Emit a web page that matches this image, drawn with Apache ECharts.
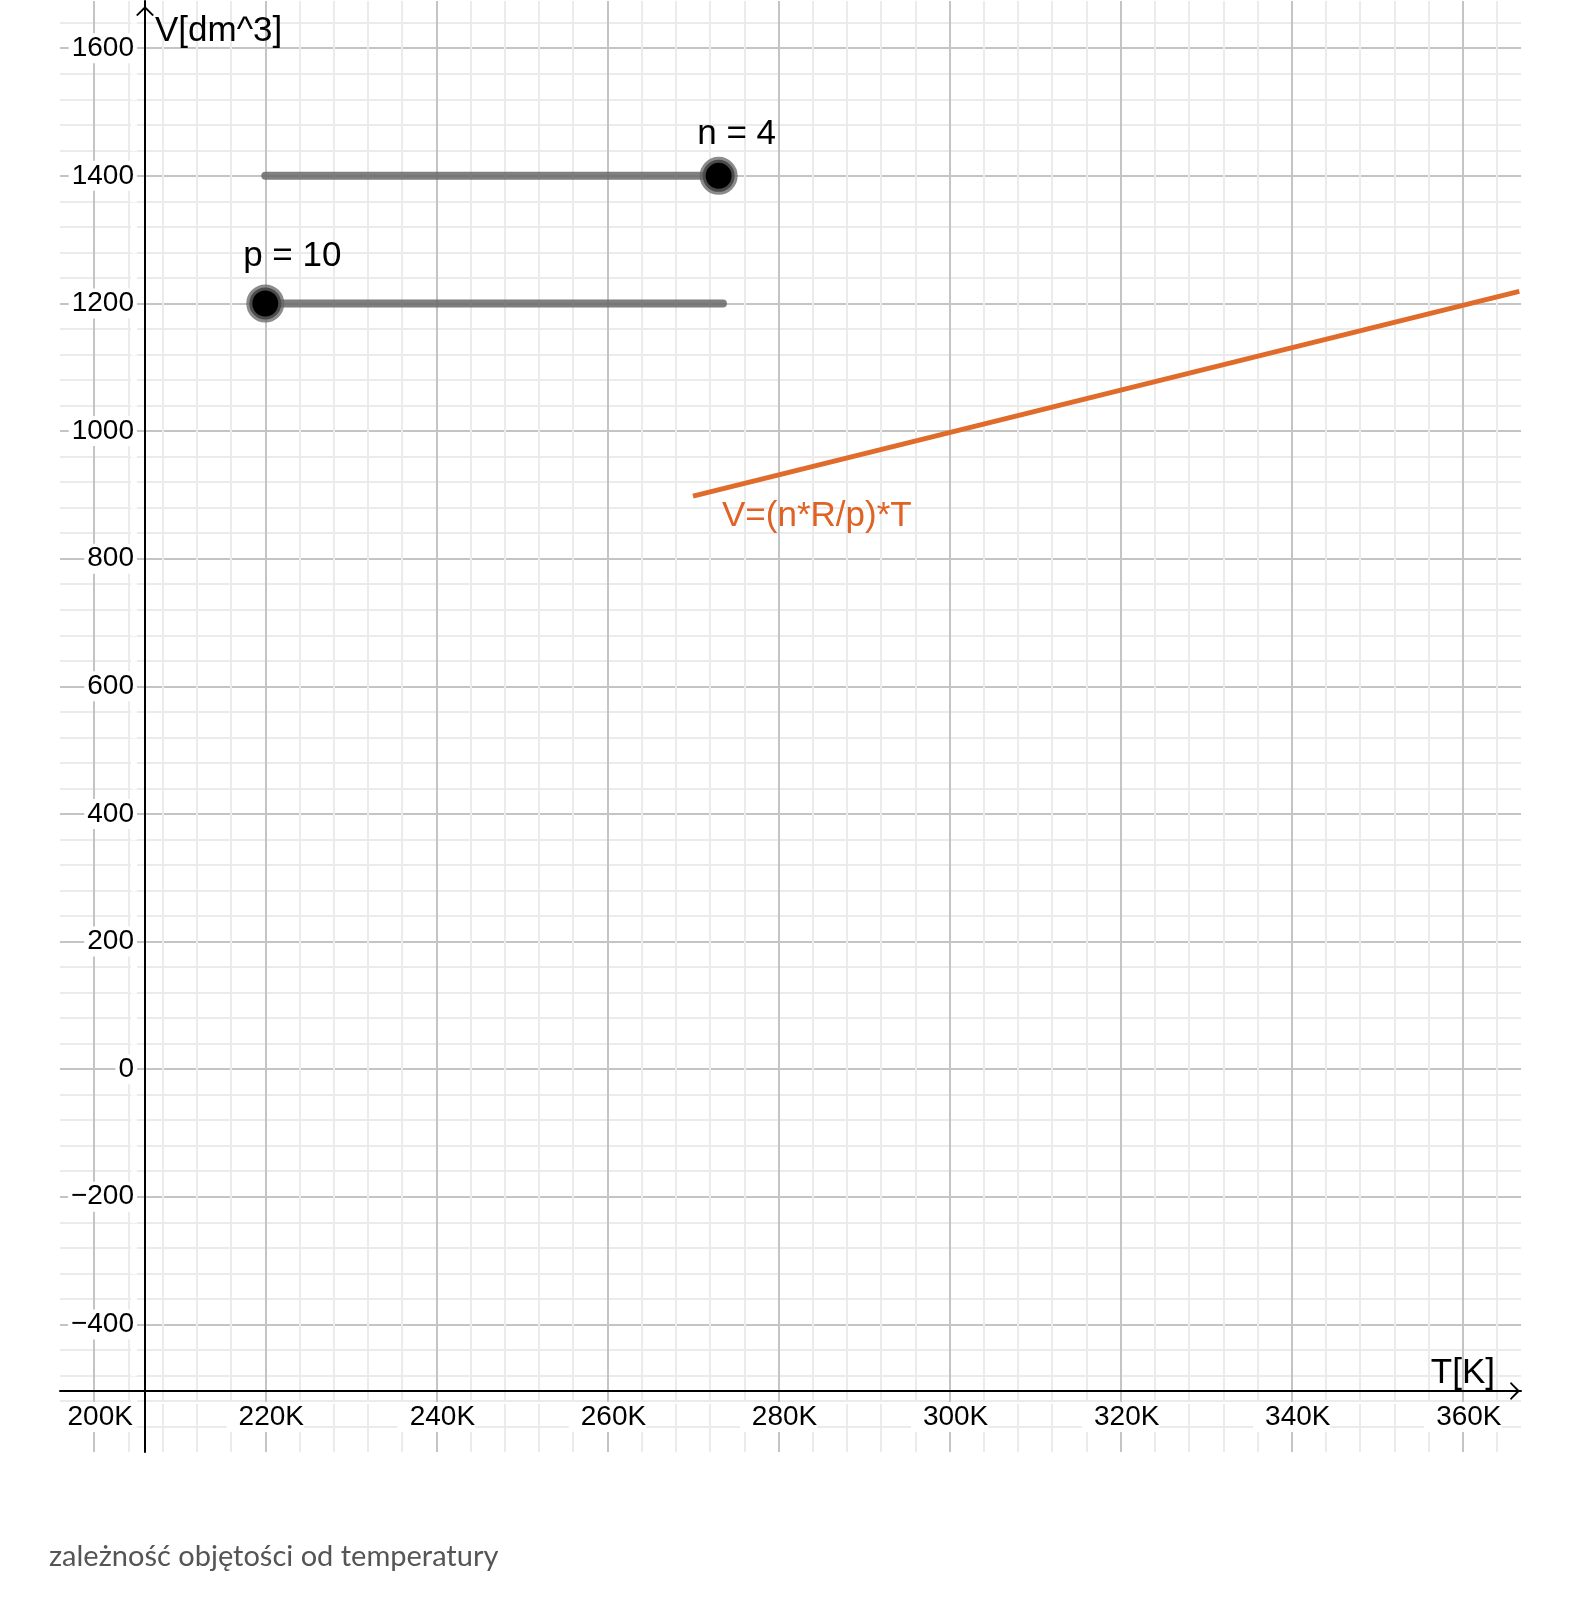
<!DOCTYPE html>
<html><head><meta charset="utf-8">
<script src="https://cdn.jsdelivr.net/npm/echarts@6/dist/echarts.min.js"></script>
<style>html,body{margin:0;padding:0;background:#fff}#c{width:1594px;height:1600px}</style>
</head><body><div id="c"></div>
<script>
// ---- data ----
const functionLine = [[270, 898], [366.6, 1219]];   // V=(n*R/p)*T, T in K
const functionLabel = 'V=(n*R/p)*T';
const nSliderTrack = [[220, 1400], [273, 1400]];
const nSliderPoint = [[273, 1400]];
const nSliderLabel = 'n = 4';
const pSliderTrack = [[220, 1200], [273.5, 1200]];
const pSliderPoint = [[220, 1200]];
const pSliderLabel = 'p = 10';
const xMajorStep = 20, xMinorStep = 4;
const yMajorStep = 200, yMinorStep = 40;
const xName = 'T[K]', yName = 'V[dm^3]';
const caption = 'zależność objętości od temperatury';

const MAJOR = '#c4c4c4', MINOR = '#ebebeb';
const FONT = 'Liberation Sans, Arial, sans-serif';
const chevron = 'path://M9,0 L18,9 L16.4,10 L9,2.8 L1.6,10 L0,9 Z';

const chart = echarts.init(document.getElementById('c'), null, {renderer: 'canvas'});
chart.setOption({
  animation: false,
  backgroundColor: '#fff',
  title: {
    text: caption, left: 44, top: 1537,
    textStyle: {fontFamily: 'Lato', fontSize: 29, fontWeight: 'normal', color: '#555'}
  },
  grid: {left: 60, right: 73, top: 0, bottom: 148, containLabel: false},
  xAxis: {
    type: 'value', min: 196, max: 366.8, interval: xMinorStep,
    position: 'bottom', offset: -61,
    name: xName, nameLocation: 'end', nameGap: -26,
    nameTextStyle: {fontFamily: FONT, fontSize: 35, color: '#000', align: 'right', verticalAlign: 'bottom'},
    axisLine: {show: true, onZero: false, lineStyle: {color: '#000', width: 2},
      symbol: ['none', chevron], symbolSize: [18, 10], symbolOffset: [0, -6]},
    axisTick: {show: false},
    axisLabel: {
      margin: 11, fontFamily: FONT, fontSize: 28, color: '#000',
      backgroundColor: '#fff', padding: [1, 0, 1, 12],
      formatter: v => (Math.abs(v % xMajorStep) < 1e-6 ? v + 'K' : '')
    },
    splitLine: {show: true, showMinLine: false, showMaxLine: false,
      lineStyle: {color: [MAJOR, MINOR, MINOR, MINOR, MINOR], width: 2}}
  },
  yAxis: {
    type: 'value', min: -600, max: 1674, interval: yMinorStep,
    position: 'left', offset: -85,
    name: yName, nameLocation: 'end', nameGap: -13,
    nameTextStyle: {fontFamily: FONT, fontSize: 35, color: '#000', align: 'left', verticalAlign: 'top', padding: [0, 0, 0, 10]},
    axisLine: {show: true, onZero: false, lineStyle: {color: '#000', width: 2},
      symbol: ['none', chevron], symbolSize: [18, 10], symbolOffset: [0, -10]},
    axisTick: {show: false},
    axisLabel: {
      margin: 8, showMinLabel: false, fontFamily: FONT, fontSize: 28, color: '#000',
      backgroundColor: '#fff', padding: [1, 3],
      formatter: v => (Math.abs(v % yMajorStep) < 1e-6 ? (v < 0 ? '\u2212' + (-v) : '' + v) : '')
    },
    splitLine: {show: true, showMinLine: false, showMaxLine: false,
      lineStyle: {color: [MINOR, MINOR, MINOR, MINOR, MAJOR], width: 2}}
  },
  series: [
    {
      type: 'line', data: functionLine, symbol: 'none', z: 5,
      lineStyle: {color: '#e06c2c', width: 5}
    },
    {
      type: 'scatter', data: [functionLine[0]], symbolSize: 0, z: 6, silent: true,
      itemStyle: {color: 'rgba(0,0,0,0)', opacity: 1},
      label: {show: true, position: 'right', distance: 29, offset: [0, 20], formatter: functionLabel,
        fontFamily: FONT, fontSize: 35, color: '#e06225'}
    },
    {
      type: 'line', data: nSliderTrack, symbol: 'none', z: 5,
      lineStyle: {color: 'rgba(105,105,105,0.85)', width: 8, cap: 'round'}
    },
    {
      type: 'line', data: pSliderTrack, symbol: 'none', z: 5,
      lineStyle: {color: 'rgba(105,105,105,0.85)', width: 8, cap: 'round'}
    },
    {
      type: 'scatter', data: nSliderPoint, symbolSize: 32, z: 7,
      itemStyle: {color: '#000', borderColor: 'rgba(100,100,100,0.75)', borderWidth: 6, opacity: 1},
      label: {show: true, position: 'top', distance: 5, offset: [18, 0], formatter: nSliderLabel,
        fontFamily: FONT, fontSize: 35, color: '#000'}
    },
    {
      type: 'scatter', data: pSliderPoint, symbolSize: 32, z: 7,
      itemStyle: {color: '#000', borderColor: 'rgba(100,100,100,0.75)', borderWidth: 6, opacity: 1},
      label: {show: true, position: 'top', distance: 5, offset: [27, -6], formatter: pSliderLabel,
        fontFamily: FONT, fontSize: 35, color: '#000'}
    }
  ]
});
</script></body></html>
